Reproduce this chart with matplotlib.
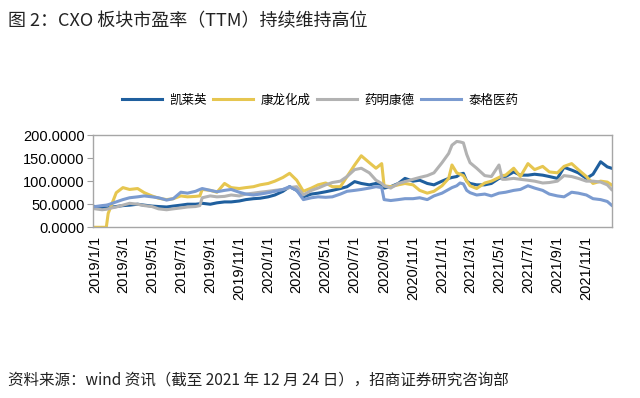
import matplotlib
matplotlib.use("Agg")
import matplotlib.pyplot as plt
import matplotlib.dates as mdates
import matplotlib.ticker as mticker
import pandas as pd

plt.rcParams['font.family'] = ['Noto Sans CJK SC', 'DejaVu Sans']

dates = ["2019-01-02","2019-01-16","2019-01-25","2019-01-29","2019-02-01","2019-02-15","2019-03-01","2019-03-15",
         "2019-04-01","2019-04-15","2019-05-01","2019-05-15","2019-06-01","2019-06-15","2019-07-01","2019-07-15",
         "2019-08-01","2019-08-10","2019-08-15","2019-09-01","2019-09-15","2019-10-01","2019-10-15","2019-11-01",
         "2019-11-15","2019-12-01","2019-12-15",
         "2020-01-01","2020-01-15","2020-02-01","2020-02-15","2020-03-01","2020-03-15","2020-04-01","2020-04-15",
         "2020-05-01","2020-05-15","2020-06-01","2020-06-15","2020-07-01","2020-07-15","2020-08-01","2020-08-15",
         "2020-08-27","2020-09-01","2020-09-15","2020-10-01","2020-10-15","2020-11-01","2020-11-15","2020-12-01",
         "2020-12-15",
         "2021-01-01","2021-01-15","2021-01-22","2021-02-01","2021-02-08","2021-02-15","2021-02-22","2021-03-01",
         "2021-03-15","2021-04-01","2021-04-15","2021-05-01","2021-05-08","2021-05-15","2021-06-01","2021-06-15",
         "2021-07-01","2021-07-15","2021-08-01","2021-08-15","2021-09-01","2021-09-15","2021-10-01","2021-10-15",
         "2021-11-01","2021-11-15","2021-12-01","2021-12-15","2021-12-24"]

kailaiying = [45,43,42,42,43,45,47,48,50,48,46,45,44,46,48,50,50,51,52,50,53,55,55,57,60,62,63,
              66,70,78,88,80,66,72,74,77,80,84,88,99,95,92,95,93,85,88,95,106,100,102,95,92,
              100,106,108,110,115,117,100,95,92,92,95,106,108,110,120,113,113,115,113,110,106,130,124,118,106,115,142,131,128]
kanglong = [0,0,0,30,38,75,86,82,84,75,68,63,60,62,68,66,67,68,82,80,76,95,86,84,86,88,92,
            95,100,108,117,102,78,85,92,96,88,88,110,135,155,140,128,138,90,88,92,95,92,80,74,78,
            90,106,135,118,115,112,100,90,84,96,100,108,112,113,128,110,138,125,132,120,118,132,138,125,110,95,100,98,92]
yaoming = [40,38,39,40,41,44,48,52,50,47,45,40,38,40,42,44,45,47,64,68,66,67,70,68,72,74,76,
           78,80,82,86,88,70,80,85,92,97,100,110,125,128,118,102,95,90,85,95,99,104,108,112,118,
           140,160,178,186,185,183,158,140,128,112,110,135,104,104,106,104,102,100,96,97,100,112,110,106,100,100,98,92,82]
taige = [45,47,48,49,50,55,60,64,66,68,66,64,59,62,76,74,78,82,84,80,77,80,82,76,72,70,72,
         75,78,82,88,80,60,64,66,65,66,72,78,80,82,85,88,86,60,58,60,62,62,64,60,68,
         74,82,86,90,96,94,80,75,70,72,68,74,75,76,80,82,90,85,80,72,68,66,76,74,70,62,60,56,48]

names = ["凯莱英", "康龙化成", "药明康德", "泰格医药"]
colors = ["#1f5f9e", "#e6c650", "#b2b2b2", "#7b9bd0"]
series = [kailaiying, kanglong, yaoming, taige]
yticks = [0, 50, 100, 150, 200]

x = pd.to_datetime(dates)

fig = plt.figure(figsize=(6.4, 3.98), dpi=100)
fig.patch.set_facecolor("white")
ax = fig.add_axes([0.1453, 0.4289, 0.957 - 0.1453, 0.6608 - 0.4289])

lines = []
for name, c, vals in zip(names, colors, series):
    ln, = ax.plot(x, vals, color=c, lw=2.2, label=name, solid_joinstyle="round")
    lines.append(ln)

ax.set_ylim(0, 200)
ax.set_yticks(yticks)
ax.yaxis.set_major_formatter(mticker.FormatStrFormatter('%.4f'))
ax.set_xlim(pd.Timestamp("2018-12-28"), pd.Timestamp("2021-12-26"))
ax.xaxis.set_major_locator(mdates.MonthLocator(bymonth=[1, 3, 5, 7, 9, 11], bymonthday=1))
ax.xaxis.set_major_formatter(mticker.FuncFormatter(
    lambda v, p: "{0}/{1}/{2}".format(mdates.num2date(v).year, mdates.num2date(v).month, mdates.num2date(v).day)))

for lab in ax.get_yticklabels():
    lab.set_fontfamily(['Liberation Sans', 'DejaVu Sans'])
    lab.set_fontsize(10.5)
for lab in ax.get_xticklabels():
    lab.set_fontfamily(['Liberation Sans', 'DejaVu Sans'])
    lab.set_fontsize(10.5)
    lab.set_rotation(90)

ax.tick_params(axis='y', length=4, width=0.8, color="#a0a0a0", pad=2)
ax.tick_params(axis='x', length=0, pad=6)
for sp in ax.spines.values():
    sp.set_color("#a6a6a6")
    sp.set_linewidth(1.0)

fig.legend(handles=lines, labels=names, loc="center", bbox_to_anchor=(0.5, 0.748),
           ncol=4, frameon=False, fontsize=9, handlelength=3.2, handletextpad=0.6,
           columnspacing=0.5, borderaxespad=0)

fig.text(0.013, 0.948, "图 2：CXO 板块市盈率（TTM）持续维持高位", fontsize=13,
         ha="left", va="center", color="#222222")
fig.text(0.013, 0.045, "资料来源：wind 资讯（截至 2021 年 12 月 24 日），招商证券研究咨询部", fontsize=11.2,
         ha="left", va="center", color="#222222")

fig.savefig("out.png", dpi=100, facecolor="white")
